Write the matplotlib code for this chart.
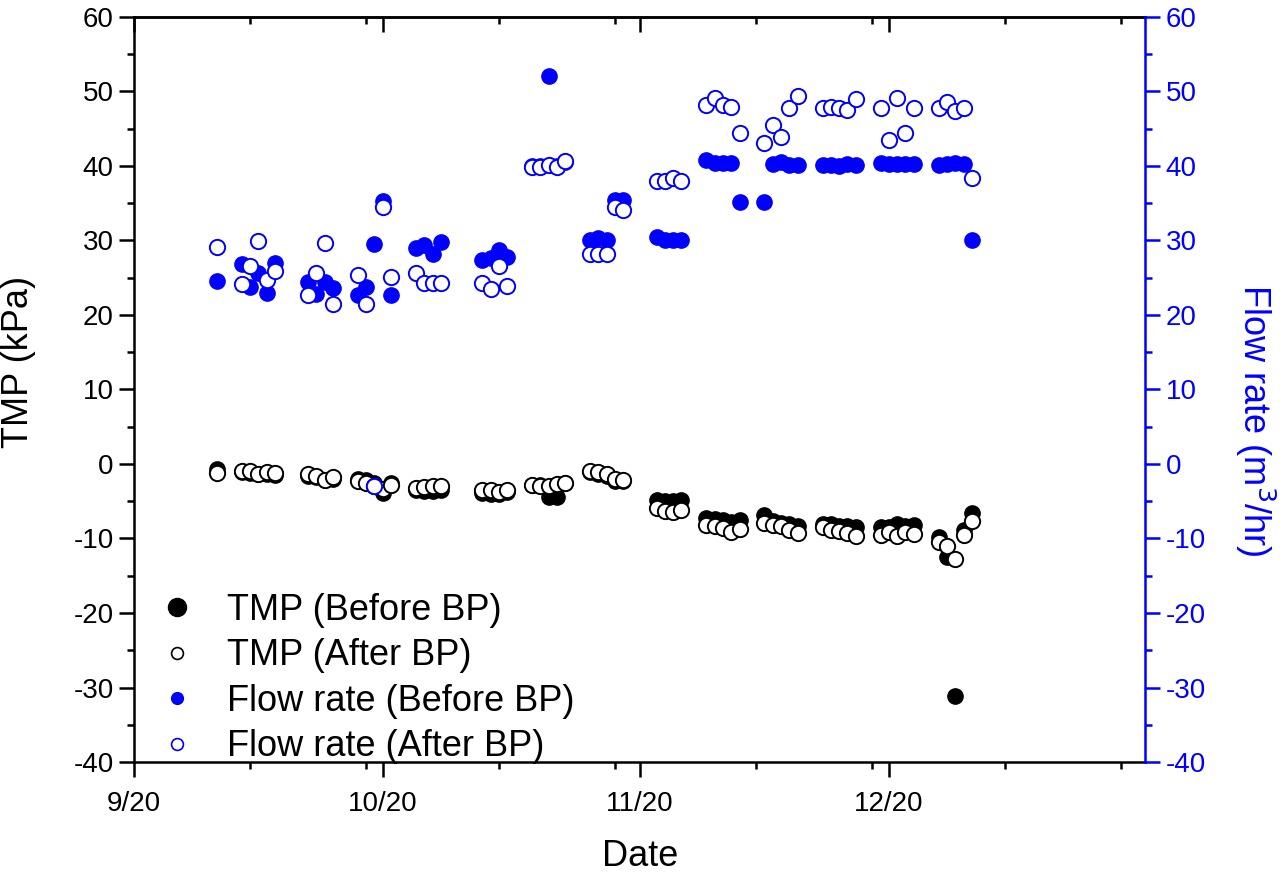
import matplotlib
matplotlib.use('Agg')
import matplotlib.pyplot as plt
from matplotlib.lines import Line2D
import numpy as np
import pandas as pd

# sampling dates (same days for all four series)
dates = ['2020-09-11',
         '2020-09-14', '2020-09-15', '2020-09-16', '2020-09-17', '2020-09-18',
         '2020-09-22', '2020-09-23', '2020-09-24', '2020-09-25',
         '2020-09-28', '2020-09-29', '2020-09-30', '2020-10-01', '2020-10-02',
         '2020-10-05', '2020-10-06', '2020-10-07', '2020-10-08',
         '2020-10-13', '2020-10-14', '2020-10-15', '2020-10-16',
         '2020-10-19', '2020-10-20', '2020-10-21', '2020-10-22', '2020-10-23',
         '2020-10-26', '2020-10-27', '2020-10-28', '2020-10-29', '2020-10-30',
         '2020-11-03', '2020-11-04', '2020-11-05', '2020-11-06',
         '2020-11-09', '2020-11-10', '2020-11-11', '2020-11-12', '2020-11-13',
         '2020-11-16', '2020-11-17', '2020-11-18', '2020-11-19', '2020-11-20',
         '2020-11-23', '2020-11-24', '2020-11-25', '2020-11-26', '2020-11-27',
         '2020-11-30', '2020-12-01', '2020-12-02', '2020-12-03', '2020-12-04',
         '2020-12-07', '2020-12-08', '2020-12-09', '2020-12-10', '2020-12-11']

tmp_before = [-0.7,
              -1.1, -1.2, -1.4, -1.3, -1.5,
              -1.6, -1.8, -2.2, -2.0,
              -2.0, -2.2, -2.6, -3.9, -2.6,
              -3.5, -3.6, -3.6, -3.5,
              -3.9, -4.0, -4.0, -3.8,
              -2.8, -2.8, -4.4, -4.4, -2.6,
              -1.1, -1.3, -1.6, -2.3, -2.3,
              -4.9, -5.0, -5.0, -4.9,
              -7.2, -7.4, -7.5, -7.8, -7.5,
              -6.8, -7.7, -7.9, -8.0, -8.3,
              -8.1, -8.0, -8.3, -8.3, -8.4,
              -8.5, -8.4, -8.1, -8.3, -8.2,
              -9.8, -12.5, -31.1, -8.9, -6.6]

tmp_after = [-1.2,
             -0.9, -1.0, -1.4, -1.1, -1.2,
             -1.4, -1.6, -2.1, -1.8,
             -2.3, -2.5, -2.9, -3.3, -2.8,
             -3.2, -3.1, -3.0, -2.9,
             -3.5, -3.5, -3.8, -3.5,
             -2.8, -2.9, -2.9, -2.7, -2.6,
             -0.9, -1.1, -1.4, -2.0, -2.1,
             -5.9, -6.3, -6.4, -6.2,
             -8.2, -8.3, -8.6, -9.1, -8.7,
             -7.9, -8.2, -8.3, -8.9, -9.3,
             -8.5, -8.8, -9.0, -9.3, -9.7,
             -9.6, -9.1, -9.7, -9.1, -9.4,
             -10.5, -11.0, -12.8, -9.5, -7.6]

flow_before = [24.6,
               26.8, 23.8, 25.6, 23.0, 27.0,
               24.4, 22.8, 24.4, 23.6,
               22.7, 23.8, 29.5, 35.3, 22.7,
               29.0, 29.4, 28.2, 29.8,
               27.4, 27.6, 28.7, 27.8,
               40.0, 40.0, 52.1, 40.0, 40.5,
               30.1, 30.3, 30.1, 35.4, 35.4,
               30.4, 30.1, 30.0, 30.0,
               40.8, 40.4, 40.4, 40.4, 35.2,
               35.2, 40.3, 40.5, 40.1, 40.1,
               40.1, 40.1, 40.0, 40.3, 40.1,
               40.4, 40.3, 40.3, 40.3, 40.3,
               40.1, 40.3, 40.4, 40.3, 30.0]

flow_after = [29.1,
              24.2, 26.6, 29.9, 24.7, 25.9,
              22.6, 25.6, 29.7, 21.5,
              25.4, 21.5, -3.0, 34.5, 25.1,
              25.6, 24.3, 24.3, 24.3,
              24.3, 23.5, 26.6, 23.9,
              39.9, 39.9, 40.1, 39.9, 40.7,
              28.2, 28.2, 28.2, 34.5, 34.1,
              37.9, 37.9, 38.3, 38.0,
              48.1, 49.1, 48.2, 47.9, 44.4,
              43.1, 45.5, 43.8, 47.8, 49.4,
              47.8, 47.9, 47.8, 47.5, 49.0,
              47.7, 43.5, 49.1, 44.4, 47.7,
              47.7, 48.6, 47.4, 47.7, 38.3]

major_dates = ['2020-09-01', '2020-10-01', '2020-11-01', '2020-12-01']
major_labels = ['9/20', '10/20', '11/20', '12/20']
minor_dates = ['2020-09-15', '2020-09-29', '2020-10-15', '2020-10-29',
               '2020-11-15', '2020-11-29', '2020-12-15', '2020-12-29']

x = pd.to_datetime(dates)

plt.rcParams['font.family'] = ['Liberation Sans', 'DejaVu Sans']
plt.rcParams['axes.unicode_minus'] = False
blue = '#0000FF'
ms = 11

fig = plt.figure(figsize=(12.87, 8.8), dpi=100)
ax = fig.add_axes([0.104, 0.134, 0.786, 0.847])
ax2 = ax.twinx()

# TMP on the left axis
ax.plot(x, tmp_before, 'o', color='black', ms=ms, mec='black', mew=1.0, zorder=3)
ax.plot(x, tmp_after, 'o', mfc='white', mec='black', ms=ms, mew=1.4, zorder=4)

# flow rate on the right axis
ax2.plot(x, flow_before, 'o', color=blue, mec=blue, ms=ms, mew=1.0, zorder=3)
ax2.plot(x, flow_after, 'o', mfc='white', mec=blue, ms=ms, mew=1.4, zorder=4)

for a in (ax, ax2):
    a.set_ylim(-40, 60)
    a.set_yticks(np.arange(-40, 61, 10))
    a.set_yticks(np.arange(-35, 60, 10), minor=True)

ax.set_xlim(pd.Timestamp('2020-09-01'), pd.Timestamp('2020-12-31 22:00'))
ax.set_xticks(pd.to_datetime(major_dates))
ax.set_xticklabels(major_labels)
ax.set_xticks(pd.to_datetime(minor_dates), minor=True)

ax.tick_params(axis='both', which='major', labelsize=20, width=1.8, length=11, direction='out')
ax.tick_params(axis='both', which='minor', width=1.8, length=5, direction='out')
ax.tick_params(axis='x', which='major', pad=10)

# mirrored ticks on the top axis, pointing inward
top = ax.secondary_xaxis('top')
top.set_xticks(pd.to_datetime(major_dates))
top.set_xticks(pd.to_datetime(minor_dates), minor=True)
top.tick_params(which='major', direction='in', length=11, width=1.8, labeltop=False)
top.tick_params(which='minor', direction='in', length=5, width=1.8)
top.set_xticklabels([])
top.spines['top'].set_linewidth(1.8)

ax2.tick_params(axis='y', which='major', labelsize=20, width=1.8, length=11,
                colors=blue, direction='out')
ax2.tick_params(axis='y', which='minor', width=1.8, length=5, colors=blue, direction='out')

for s in ['left', 'bottom', 'top']:
    ax.spines[s].set_linewidth(1.8)
ax.spines['right'].set_visible(False)
ax2.spines['right'].set_color(blue)
ax2.spines['right'].set_linewidth(1.8)
for s in ['left', 'bottom', 'top']:
    ax2.spines[s].set_visible(False)

ax.set_xlabel('Date', fontsize=26, labelpad=16)
ax.set_ylabel('TMP (kPa)', fontsize=26)
ax.yaxis.set_label_coords(-0.114, 0.537)
ax.yaxis.label.set_va('center')
ax2.set_ylabel('Flow rate (m$^3$/hr)', fontsize=26, color=blue, rotation=270)
ax2.yaxis.set_label_coords(1.108, 0.459)
ax2.yaxis.label.set_va('center')

# legend with custom handles
handles = [Line2D([], [], ls='none', marker='o', color='black', ms=13),
           Line2D([], [], ls='none', marker='o', mfc='white', mec='black', ms=8.5, mew=1.2),
           Line2D([], [], ls='none', marker='o', color=blue, ms=8.5),
           Line2D([], [], ls='none', marker='o', mfc='white', mec=blue, ms=8.5, mew=1.2)]
names = ['TMP (Before BP)', 'TMP (After BP)', 'Flow rate (Before BP)', 'Flow rate (After BP)']
ax2.legend(handles, names, loc='lower left', bbox_to_anchor=(0.003, -0.032), frameon=False,
           fontsize=26, handlelength=1.0, handletextpad=0.9, labelspacing=0.29,
           borderaxespad=0.2)

plt.savefig('out.png', dpi=100)
